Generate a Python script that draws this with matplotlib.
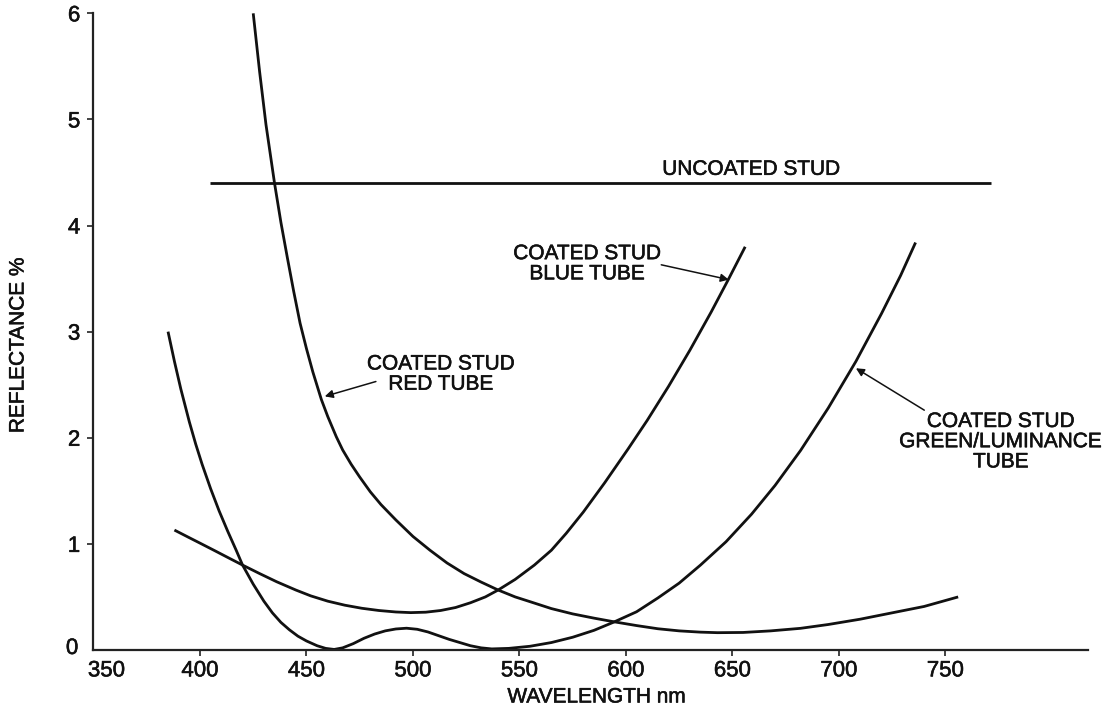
import matplotlib
matplotlib.use("Agg")
import matplotlib.pyplot as plt
import matplotlib.transforms as mtransforms
import matplotlib.patheffects as pe

plt.rcParams['font.family'] = ['Liberation Sans', 'DejaVu Sans']

# wavelength (nm) / reflectance (%)
red_x = [425, 428, 431, 435, 438, 441, 444, 447, 450, 453, 457, 460, 464, 467, 471, 475,
         480, 485, 492, 500, 508, 516, 524, 532, 540, 548, 555, 565, 575, 585, 594, 605,
         615, 625, 635, 643, 655, 668, 682, 695, 710, 725, 740, 756]
red_y = [6.0, 5.45, 4.95, 4.40, 4.03, 3.70, 3.38, 3.08, 2.84, 2.62, 2.36, 2.20, 2.01, 1.885,
         1.75, 1.63, 1.49, 1.37, 1.225, 1.07, 0.94, 0.82, 0.72, 0.64, 0.565, 0.50, 0.455,
         0.39, 0.34, 0.30, 0.267, 0.23, 0.20, 0.18, 0.168, 0.163, 0.165, 0.18, 0.204, 0.24,
         0.29, 0.35, 0.41, 0.50]

blue_x = [388, 395, 400, 407, 414, 420, 428, 436, 445, 452, 460, 468, 476, 484, 492, 499,
          506, 513, 520, 527, 534, 540, 548, 557, 565, 572, 580, 590, 601, 610, 620, 630,
          640, 648, 656]
blue_y = [1.13, 1.058, 1.007, 0.935, 0.862, 0.80, 0.72, 0.643, 0.565, 0.51, 0.46, 0.422,
          0.393, 0.372, 0.358, 0.352, 0.356, 0.372, 0.40, 0.445, 0.50, 0.565, 0.665, 0.80,
          0.94, 1.10, 1.30, 1.575, 1.894, 2.164, 2.484, 2.824, 3.184, 3.488, 3.80]

green_x = [385, 388, 391, 395, 398, 401, 405, 409, 413, 417, 420, 425, 430, 434, 438, 442,
           446, 450, 455, 459, 463, 467, 472, 477, 482, 487, 492, 497, 502, 507, 512, 517,
           522, 527, 532, 537, 545, 555, 565, 575, 585, 594, 605, 615, 625, 635, 647, 659,
           670, 682, 695, 708, 720, 729, 736]
green_y = [3.0, 2.72, 2.46, 2.15, 1.94, 1.75, 1.52, 1.31, 1.12, 0.94, 0.80, 0.62, 0.46, 0.35,
           0.26, 0.19, 0.13, 0.085, 0.04, 0.015, 0.005, 0.02, 0.06, 0.11, 0.15, 0.18, 0.198,
           0.205, 0.195, 0.17, 0.135, 0.10, 0.07, 0.04, 0.02, 0.01, 0.015, 0.035, 0.07, 0.12,
           0.185, 0.26, 0.36, 0.49, 0.63, 0.80, 1.02, 1.28, 1.55, 1.88, 2.28, 2.72, 3.17,
           3.53, 3.84]

uncoated_x = [404.6, 771.4]
uncoated_y = [4.40, 4.40]

x_ticks = [350, 400, 450, 500, 550, 600, 650, 700, 750]
y_ticks = [0, 1, 2, 3, 4, 5, 6]

ink = '#111111'
bold = [pe.withStroke(linewidth=0.4, foreground=ink)]

fig = plt.figure(figsize=(11.17, 7.13), dpi=100)
ax = fig.add_axes([0.0837, 0.0884, 0.8904, 0.8929])

for xs, ys in [(red_x, red_y), (blue_x, blue_y), (green_x, green_y), (uncoated_x, uncoated_y)]:
    ax.plot(xs, ys, color=ink, lw=2.0, solid_capstyle='butt', solid_joinstyle='round')

ax.set_xlim(350, 817)
ax.set_ylim(0, 6)
ax.spines['top'].set_visible(False)
ax.spines['right'].set_visible(False)
for s in ['left', 'bottom']:
    ax.spines[s].set_linewidth(1.6)
    ax.spines[s].set_color('#222222')

ax.set_xticks(x_ticks)
ax.set_yticks(y_ticks)
ax.tick_params(axis='both', direction='out', length=4.5, width=1.2, colors='#222222',
               labelsize=16, labelcolor=ink)
ax.tick_params(axis='x', pad=3)
ax.tick_params(axis='y', pad=5)
for lab in ax.get_xticklabels() + ax.get_yticklabels():
    lab.set_path_effects(bold)

# corner ticks are hidden in the original, and the 350 / 0 labels are nudged
ax.xaxis.get_major_ticks()[0].tick1line.set_visible(False)
ax.yaxis.get_major_ticks()[0].tick1line.set_visible(False)
lbl350 = ax.get_xticklabels()[0]
lbl350.set_transform(lbl350.get_transform() + mtransforms.ScaledTranslation(0.13, 0, fig.dpi_scale_trans))
lbl0 = ax.get_yticklabels()[0]
lbl0.set_transform(lbl0.get_transform() + mtransforms.ScaledTranslation(-0.02, 0.04, fig.dpi_scale_trans))

fig.text(597 / 1117, 1 - 697 / 713, 'WAVELENGTH nm', ha='center', va='center', fontsize=15,
         color=ink, path_effects=bold)
fig.text(18 / 1117, 1 - 345 / 713, 'REFLECTANCE %', ha='center', va='center', rotation=90,
         fontsize=15, color=ink, path_effects=bold)

txt = dict(ha='center', va='center', fontsize=15, color=ink, linespacing=1.08, path_effects=bold)
arr = dict(arrowstyle='-|>', lw=1.1, color=ink, mutation_scale=12, shrinkA=0, shrinkB=0)

ax.text(659, 4.53, 'UNCOATED STUD', **txt)

ax.text(513.2, 2.60, 'COATED STUD\nRED TUBE', **txt)
ax.annotate('', xy=(458.6, 2.39), xytext=(482.6, 2.53), arrowprops=arr)

ax.text(581.9, 3.64, 'COATED STUD\nBLUE TUBE', **txt)
ax.annotate('', xy=(648.3, 3.49), xytext=(616.6, 3.63), arrowprops=arr)

ax.text(776.1, 1.963, 'COATED STUD\nGREEN/LUMINANCE\nTUBE', clip_on=False, **txt)
ax.annotate('', xy=(708, 2.655), xytext=(740.1, 2.26), arrowprops=arr)

fig.savefig('out.png', dpi=100, facecolor='white')
